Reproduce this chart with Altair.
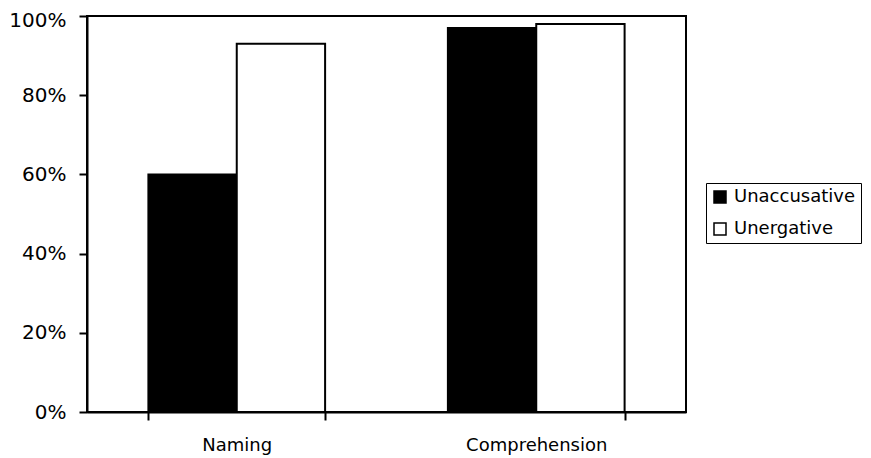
import altair as alt
import pandas as pd

categories = ["Naming", "Comprehension"]
groups = ["Unaccusative", "Unergative"]
unaccusative = [0.60, 0.97]
unergative = [0.93, 0.98]
y_ticks = [0, 0.2, 0.4, 0.6, 0.8, 1.0]

rows = []
for i, c in enumerate(categories):
    rows.append({"task": c, "group": groups[0], "value": unaccusative[i]})
    rows.append({"task": c, "group": groups[1], "value": unergative[i]})
df = pd.DataFrame(rows)

FONT = "DejaVu Sans"

chart = alt.Chart(df).mark_bar(stroke="black", strokeWidth=2).encode(
    x=alt.X("task:N", sort=categories,
            scale=alt.Scale(paddingInner=0.41, paddingOuter=0.205),
            axis=alt.Axis(title=None, labelAngle=0, tickBand="extent",
                          labelFontSize=18, labelPadding=16, tickSize=8,
                          tickWidth=2, domainWidth=2, domainColor="black",
                          tickColor="black", labelColor="black", labelFont=FONT)),
    xOffset=alt.XOffset("group:N", sort=groups,
                        scale=alt.Scale(paddingInner=0, paddingOuter=0)),
    y=alt.Y("value:Q", scale=alt.Scale(domain=[0, 1], nice=False),
            axis=alt.Axis(title=None, format=".0%", values=y_ticks, grid=False,
                          labelFontSize=20, labelPadding=13, tickSize=8,
                          labelOffset={"condition": {"test": "datum.value == 1", "value": 4}, "value": 0},
                          tickWidth=2, domainWidth=2, domainColor="black",
                          tickColor="black", labelColor="black", labelFont=FONT)),
    fill=alt.Fill("group:N", sort=groups,
                  scale=alt.Scale(domain=groups, range=["black", "white"]),
                  legend=alt.Legend(title=None, orient="none", legendX=619, legendY=167,
                                    strokeColor="black", padding=5,
                                    labelFontSize=18, labelFont=FONT, labelColor="black",
                                    symbolType="square", symbolSize=144,
                                    symbolStrokeColor="black", symbolStrokeWidth=1.5,
                                    rowPadding=14, labelOffset=5)),
).properties(
    width=599, height=396,
    autosize=alt.AutoSizeParams(type="none"),
    padding={"left": 79, "top": 8, "right": 177, "bottom": 50},
).configure_view(stroke="black", strokeWidth=2)

chart.save("out.html", embed_options={"renderer": "svg", "actions": False})
